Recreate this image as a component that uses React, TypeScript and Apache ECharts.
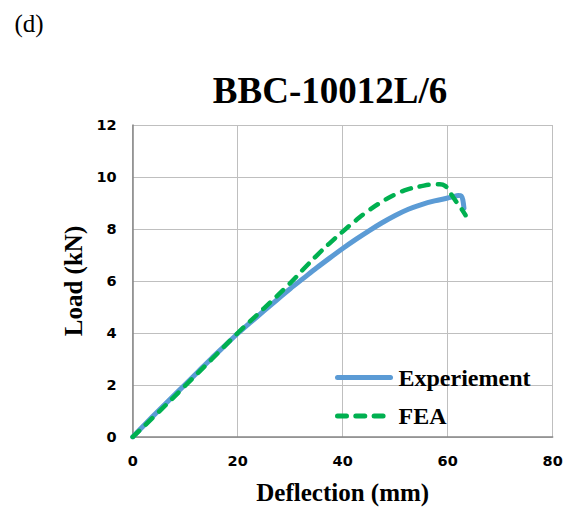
import React, { useEffect, useRef } from "react";
import * as echarts from "echarts";

const chartTitle = "BBC-10012L/6";
const panelLabel = "(d)";
const xAxisName = "Deflection (mm)";
const yAxisName = "Load (kN)";
const seriesNames = ["Experiement", "FEA"];

const expX = [0, 2.5, 5, 7.5, 10, 12.5, 15, 17.5, 20, 22.5, 25, 27.5, 30, 32.5, 35, 37.5, 40, 42.5, 45, 47.5, 50, 52.5, 55, 57.5, 60, 61, 62, 62.6, 62.9, 63.1];
const expY = [0, 0.52, 1.03, 1.53, 2.02, 2.52, 3.02, 3.5, 3.98, 4.42, 4.85, 5.28, 5.7, 6.1, 6.5, 6.88, 7.25, 7.6, 7.93, 8.24, 8.52, 8.76, 8.94, 9.08, 9.19, 9.24, 9.29, 9.27, 9.1, 8.8];

const feaX = [0, 5, 10, 15, 20, 25, 30, 32.5, 35, 37.5, 40, 42.5, 45, 47.5, 50, 52.5, 55, 57, 58.5, 59.5, 60.3, 61.2, 62, 62.7, 63.4];
const feaY = [0, 0.97, 1.97, 2.98, 4.0, 4.95, 5.92, 6.45, 6.97, 7.45, 7.9, 8.33, 8.72, 9.05, 9.33, 9.53, 9.65, 9.71, 9.72, 9.66, 9.45, 9.17, 8.95, 8.75, 8.53];

const xTicks = { min: 0, max: 80, interval: 20 };
const yTicks = { min: 0, max: 12, interval: 2 };

export default function App() {
  const ref = useRef<HTMLDivElement>(null);
  useEffect(() => {
    if (!ref.current) return;
    const chart = echarts.init(ref.current, null, { renderer: "svg" });
    const serif = "'Liberation Serif', 'Times New Roman', serif";
    const sans = "'DejaVu Sans', Verdana, sans-serif";
    const expData = expX.map((x, i) => [x, expY[i]]);
    const feaData = feaX.map((x, i) => [x, feaY[i]]);
    chart.setOption({
      animation: false,
      backgroundColor: "#ffffff",
      graphic: [
        {
          type: "text",
          x: 29,
          y: 23,
          style: { text: panelLabel, font: `normal 25px ${serif}`, fill: "#000", align: "center", verticalAlign: "middle" },
        },
        {
          type: "text",
          x: 330,
          y: 90,
          style: { text: chartTitle, font: `bold 37px ${serif}`, fill: "#000", align: "center", verticalAlign: "middle" },
        },
      ],
      grid: { left: 132.7, right: 18.3, top: 125, bottom: 68, containLabel: false },
      legend: {
        orient: "vertical",
        left: 330,
        top: 360.5,
        itemWidth: 53,
        itemHeight: 14,
        itemGap: 14.5,
        data: seriesNames,
        itemStyle: { opacity: 0 },
        lineStyle: { width: 5, cap: "round" },
        textStyle: { fontFamily: serif, fontWeight: "bold", fontSize: 24, color: "#000", padding: [0, 0, 0, 3] },
      },
      xAxis: {
        type: "value",
        min: xTicks.min,
        max: xTicks.max,
        interval: xTicks.interval,
        name: xAxisName,
        nameLocation: "middle",
        nameGap: 43,
        nameTextStyle: { fontFamily: serif, fontWeight: "bold", fontSize: 25, color: "#000" },
        axisLine: { show: true, lineStyle: { color: "#868686", width: 1.5 } },
        axisTick: { show: false },
        axisLabel: { margin: 16, fontFamily: sans, fontWeight: "bold", fontSize: 14.5, color: "#000" },
        splitLine: { show: true, lineStyle: { color: "#BFBFBF", width: 1 } },
      },
      yAxis: {
        type: "value",
        min: yTicks.min,
        max: yTicks.max,
        interval: yTicks.interval,
        name: yAxisName,
        nameLocation: "middle",
        nameGap: 38,
        nameRotate: 90,
        nameTextStyle: { fontFamily: serif, fontWeight: "bold", fontSize: 25, color: "#000" },
        axisLine: { show: true, lineStyle: { color: "#868686", width: 1.5 } },
        axisTick: { show: false },
        axisLabel: { margin: 16, fontFamily: sans, fontWeight: "bold", fontSize: 14.5, color: "#000" },
        splitLine: { show: true, lineStyle: { color: "#BFBFBF", width: 1 } },
      },
      series: [
        {
          name: seriesNames[0],
          type: "line",
          data: expData,
          symbol: "none",
          smooth: 0.3,
          color: "#5B9BD5",
          lineStyle: { color: "#5B9BD5", width: 5, cap: "round", join: "round" },
          z: 2,
        },
        {
          name: seriesNames[1],
          type: "line",
          data: feaData,
          symbol: "none",
          smooth: true,
          color: "#00B050",
          lineStyle: { color: "#00B050", width: 4.5, type: [9, 9.3], cap: "round", join: "round" },
          z: 3,
        },
      ],
    });
    return () => chart.dispose();
  }, []);
  return <div ref={ref} style={{ position: "absolute", left: 0, top: 0, width: 571, height: 510 }} />;
}
